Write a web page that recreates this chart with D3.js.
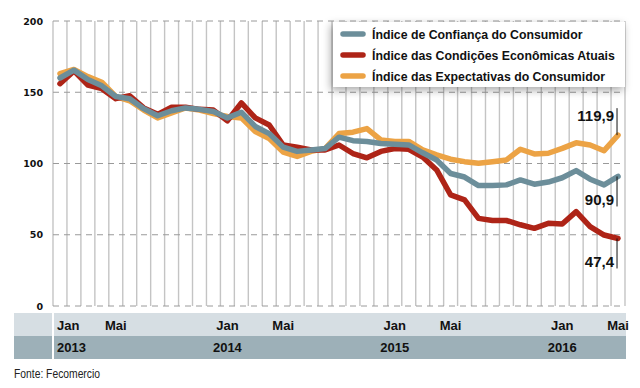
<!doctype html>
<html>
<head>
<meta charset="utf-8">
<script src="https://cdnjs.cloudflare.com/ajax/libs/d3/7.8.5/d3.min.js"></script>
<style>
  body { margin: 0; background: #fff; }
  svg { display: block; }
  .ylab { font-family: "DejaVu Sans", sans-serif; font-weight: bold; font-size: 9.5px; fill: #111; }
  .band { font-family: "Liberation Sans", Arial, sans-serif; font-weight: bold; font-size: 13px; fill: #111; }
  .leg { font-family: "Liberation Sans", Arial, sans-serif; font-weight: bold; font-size: 12.3px; fill: #111; }
  .val { font-family: "Liberation Sans", Arial, sans-serif; font-weight: bold; font-size: 15px; fill: #111; }
  .src { font-family: "Liberation Sans", Arial, sans-serif; font-size: 12px; fill: #222; }
</style>
</head>
<body>
<svg id="chart" width="640" height="388"></svg>
<script>
// jan 2013 .. mai 2016, one value per month
var confianca = [160, 165.5, 159, 154.5, 147, 145.5, 138.5, 133.5, 137, 139, 138, 136.5,
  132, 136, 126, 121, 111.5, 108.5, 109.5, 110.5, 118.5, 116, 115.5, 114,
  113.5, 113, 107.5, 102.5, 93, 90.5, 84.5, 84.5, 85, 88.5, 85.5, 87,
  90, 95, 89, 85, 90.9];
var condicoes = [156, 165, 155, 152.5, 145.5, 147.5, 139, 134.5, 139.5, 139.5, 138, 137.5,
  130, 142.5, 132, 127, 113, 111.5, 109.5, 109.5, 113, 107, 104, 108.5,
  110.5, 110, 104.5, 95.5, 78, 74.5, 61.5, 60, 60, 57, 54.5, 58,
  57.5, 66.2, 55.7, 49.8, 47.4];
var expectativas = [163, 166, 161, 157, 147, 144, 137.5, 132, 135.5, 139, 137.5, 135,
  133, 132, 122.5, 117.5, 108, 105, 108.5, 110.5, 121, 122, 124.5, 116.5,
  115.5, 115.5, 109.5, 106, 103, 101.3, 100.2, 101.3, 102.5, 110, 106.7, 107.2,
  110.6, 114.5, 113, 109, 119.9];

var seriesNames = ["Índice de Confiança do Consumidor", "Índice das Condições Econômicas Atuais", "Índice das Expectativas do Consumidor"];
var seriesColors = ["#6c8e9a", "#ae2417", "#eca345"];
var endLabels = ["90,9", "47,4", "119,9"];

var monthTicks = [[0, "Jan"], [4, "Mai"], [12, "Jan"], [16, "Mai"], [24, "Jan"], [28, "Mai"], [36, "Jan"], [40, "Mai"]];
var yearTicks = [[0, "2013"], [12, "2014"], [24, "2015"], [36, "2016"]];
var yTicks = [0, 50, 100, 150, 200];

var svg = d3.select("#chart");
var nMonths = confianca.length;

var x = d3.scaleLinear().domain([0, nMonths]).range([53, 625]);
var y = d3.scaleLinear().domain([0, 200]).range([306, 21]);
var xm = function(i) { return x(i + 0.5); };

var defs = svg.append("defs");
var f = defs.append("filter").attr("id", "shadow").attr("x", "-20%").attr("y", "-40%").attr("width", "140%").attr("height", "180%");
f.append("feDropShadow").attr("dx", -2).attr("dy", 3).attr("stdDeviation", 4).attr("flood-color", "#000").attr("flood-opacity", 0.35);

// vertical grid, one per month boundary
svg.append("g").selectAll("line")
  .data(d3.range(nMonths + 1))
  .enter().append("line")
  .attr("x1", d => x(d)).attr("x2", d => x(d))
  .attr("y1", y(200)).attr("y2", y(0))
  .attr("stroke", "#c4c4c4").attr("stroke-width", 1.4);

// horizontal dashed grid
svg.append("g").selectAll("line")
  .data(yTicks)
  .enter().append("line")
  .attr("x1", x(0)).attr("x2", x(nMonths))
  .attr("y1", d => y(d)).attr("y2", d => y(d))
  .attr("stroke", "#9a9a9a").attr("stroke-width", 1).attr("stroke-dasharray", "6,5");

svg.append("g").selectAll("text")
  .data(yTicks)
  .enter().append("text")
  .attr("class", "ylab")
  .attr("x", 43).attr("y", d => y(d) + 3.5)
  .attr("text-anchor", "end")
  .text(d => d);

// lines
var line = d3.line().x((d, i) => xm(i)).y(d => y(d));
var allSeries = [confianca, condicoes, expectativas];
[2, 1, 0].forEach(function(k) {
  svg.append("path")
    .datum(allSeries[k])
    .attr("d", line)
    .attr("fill", "none")
    .attr("stroke", seriesColors[k])
    .attr("stroke-width", 5.5)
    .attr("stroke-linecap", "round")
    .attr("stroke-linejoin", "round");
});

// end value labels
var last = nMonths - 1;
var lx = xm(last) - 1;
[2, 0, 1].forEach(function(k) {
  var py = y(allSeries[k][last]);
  var y2 = k == 2 ? py - 27 : py + 30;
  svg.append("line")
    .attr("x1", lx).attr("x2", lx).attr("y1", py).attr("y2", y2)
    .attr("stroke", "#111").attr("stroke-width", 1);
  svg.append("text").attr("class", "val")
    .attr("x", lx - 3)
    .attr("y", k == 2 ? py - 14 : py + 29)
    .attr("text-anchor", "end")
    .text(endLabels[k]);
});

// legend
var leg = svg.append("g");
leg.append("rect").attr("x", 333).attr("y", 22).attr("width", 292).attr("height", 65)
  .attr("fill", "#fff").attr("filter", "url(#shadow)");
seriesNames.forEach(function(name, k) {
  var cy = 34 + k * 21;
  leg.append("line").attr("x1", 343).attr("x2", 363).attr("y1", cy).attr("y2", cy)
    .attr("stroke", seriesColors[k]).attr("stroke-width", 5.5).attr("stroke-linecap", "round");
  leg.append("text").attr("class", "leg").attr("x", 372).attr("y", cy + 4.5).text(name);
});

// bottom bands
svg.append("rect").attr("x", 14).attr("y", 313).attr("width", 612).attr("height", 23).attr("fill", "#d6dee3");
svg.append("rect").attr("x", 14).attr("y", 336).attr("width", 612).attr("height", 23).attr("fill", "#9db0b8");
svg.append("line").attr("x1", 53).attr("x2", 53).attr("y1", 313).attr("y2", 359).attr("stroke", "#fff").attr("stroke-width", 2);

svg.append("g").selectAll("text")
  .data(monthTicks)
  .enter().append("text")
  .attr("class", "band")
  .attr("x", d => d[0] == 0 ? 57 : xm(d[0]))
  .attr("y", 330)
  .attr("text-anchor", d => d[0] == 0 ? "start" : "middle")
  .text(d => d[1]);

svg.append("g").selectAll("text")
  .data(yearTicks)
  .enter().append("text")
  .attr("class", "band")
  .attr("x", d => d[0] == 0 ? 57 : xm(d[0]))
  .attr("y", 352)
  .attr("text-anchor", d => d[0] == 0 ? "start" : "middle")
  .text(d => d[1]);

svg.append("text").attr("class", "src").attr("x", 14).attr("y", 378)
  .attr("textLength", 86).attr("lengthAdjust", "spacingAndGlyphs")
  .text("Fonte: Fecomercio");
</script>
</body>
</html>
